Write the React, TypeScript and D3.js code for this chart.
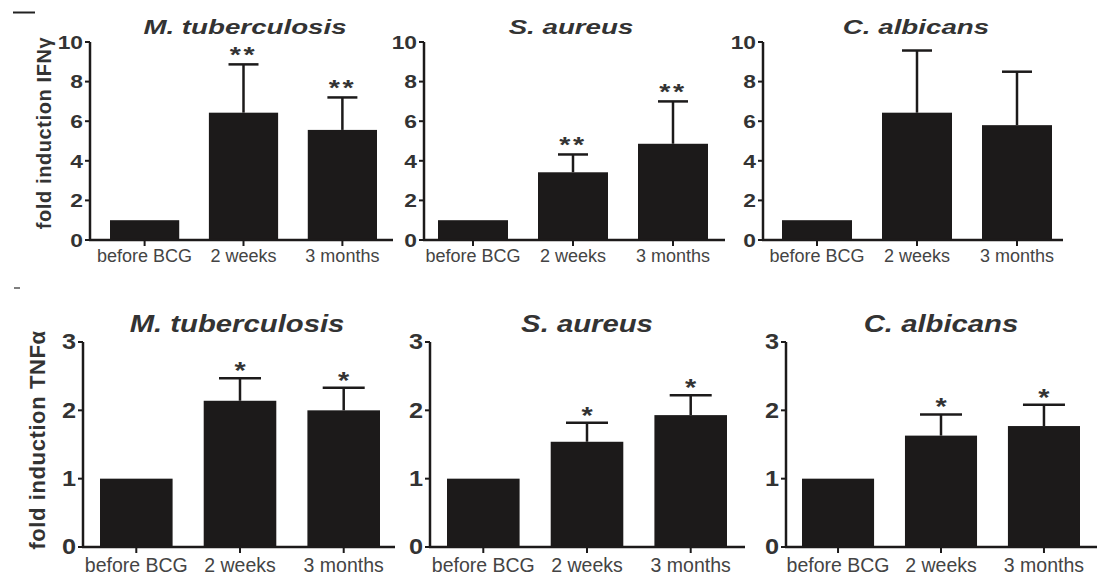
import React from 'react'
import * as d3 from 'd3'

const categories = ['before BCG', '2 weeks', '3 months']
const pathogens = ['M. tuberculosis', 'S. aureus', 'C. albicans']

// fold induction IFNγ: bar height and top of the error bar
const ifnMean = [
  [1, 6.43, 5.56],
  [1, 3.42, 4.86],
  [1, 6.43, 5.8],
]
const ifnUpper = [
  [1, 8.87, 7.2],
  [1, 4.32, 7.0],
  [1, 9.57, 8.5],
]
const ifnStars = [
  ['', '**', '**'],
  ['', '**', '**'],
  ['', '', ''],
]
const ifnTicks = [0, 2, 4, 6, 8, 10]

// fold induction TNFα
const tnfMean = [
  [1, 2.14, 2.0],
  [1, 1.54, 1.93],
  [1, 1.63, 1.77],
]
const tnfUpper = [
  [1, 2.47, 2.33],
  [1, 1.82, 2.22],
  [1, 1.94, 2.08],
]
const tnfStars = [
  ['', '*', '*'],
  ['', '*', '*'],
  ['', '*', '*'],
]
const tnfTicks = [0, 1, 2, 3]

const FONT = 'Liberation Sans, Arial, Helvetica, sans-serif'
const INK = '#1c1a1a'
const TEXT = '#333'

interface PanelLayout {
  axisX: number
  barStart: number
  barEnd: number
  axisEnd: number
}

interface RowProps {
  means: number[][]
  uppers: number[][]
  stars: string[][]
  ticks: number[]
  yLabel: string
  y0: number
  yTop: number
  titleY: number
  titleSize: number
  titleScale: number
  tickSize: number
  tickScale: number
  catSize: number
  catY: number
  capWidth: number
  starSize: number
  starScale: number
  starSpacing: number
  starDy: number
  labelX: number
  labelY: number
  labelSize: number
  labelSpacing: number
  panels: PanelLayout[]
  titleX: number[]
}

const Row = (p: RowProps) => {
  const yMax = p.ticks[p.ticks.length - 1]
  const y = d3.scaleLinear().domain([0, yMax]).range([p.y0, p.yTop])
  return (
    <g>
      <text
        transform={`translate(${p.labelX},${p.labelY}) rotate(-90)`}
        textAnchor="middle"
        dominantBaseline="central"
        fontFamily={FONT}
        fontWeight="bold"
        fontSize={p.labelSize}
        letterSpacing={p.labelSpacing}
        fill={TEXT}
      >
        {p.yLabel}
      </text>
      {p.panels.map((pl, i) => {
        const x = d3
          .scaleBand<string>()
          .domain(categories)
          .range([pl.barStart, pl.barEnd])
          .paddingInner(0.3)
          .paddingOuter(0)
        const bw = x.bandwidth()
        return (
          <g key={i}>
            <text
              transform={`translate(${p.titleX[i]},${p.titleY}) scale(${p.titleScale},1)`}
              textAnchor="middle"
              fontFamily={FONT}
              fontWeight="bold"
              fontStyle="italic"
              fontSize={p.titleSize}
              fill={TEXT}
            >
              {pathogens[i]}
            </text>
            {/* bars */}
            {categories.map((c, j) => (
              <rect
                key={c}
                x={x(c)}
                y={y(p.means[i][j])}
                width={bw}
                height={p.y0 - y(p.means[i][j])}
                fill={INK}
              />
            ))}
            {/* error bars */}
            {categories.map((c, j) => {
              if (p.uppers[i][j] <= p.means[i][j]) return null
              const cx = (x(c) || 0) + bw / 2
              return (
                <g key={c} stroke={INK} strokeWidth={2.5}>
                  <line x1={cx} x2={cx} y1={y(p.means[i][j])} y2={y(p.uppers[i][j])} />
                  <line
                    x1={cx - p.capWidth / 2}
                    x2={cx + p.capWidth / 2}
                    y1={y(p.uppers[i][j])}
                    y2={y(p.uppers[i][j])}
                  />
                </g>
              )
            })}
            {/* significance */}
            {categories.map((c, j) =>
              p.stars[i][j] ? (
                <text
                  key={c}
                  transform={`translate(${(x(c) || 0) + bw / 2},${y(p.uppers[i][j]) + p.starDy}) scale(${p.starScale},1)`}
                  textAnchor="middle"
                  fontFamily={FONT}
                  fontWeight="bold"
                  fontSize={p.starSize}
                  letterSpacing={p.starSpacing}
                  fill={TEXT}
                >
                  {p.stars[i][j]}
                </text>
              ) : null
            )}
            {/* y axis */}
            <line x1={pl.axisX} x2={pl.axisX} y1={p.y0 + 1} y2={y(yMax)} stroke={INK} strokeWidth={2.5} />
            {p.ticks.map((t) => (
              <g key={t}>
                <line x1={pl.axisX - 5} x2={pl.axisX} y1={y(t)} y2={y(t)} stroke={INK} strokeWidth={2} />
                <text
                  transform={`translate(${pl.axisX - 7},${y(t)}) scale(${p.tickScale},1)`}
                  textAnchor="end"
                  dominantBaseline="central"
                  fontFamily={FONT}
                  fontWeight="bold"
                  fontSize={p.tickSize}
                  fill={TEXT}
                >
                  {t}
                </text>
              </g>
            ))}
            {/* x axis */}
            <line x1={pl.axisX - 1} x2={pl.axisEnd} y1={p.y0} y2={p.y0} stroke={INK} strokeWidth={2.5} />
            {categories.map((c) => {
              const cx = (x(c) || 0) + bw / 2
              return (
                <g key={c}>
                  <line x1={cx} x2={cx} y1={p.y0} y2={p.y0 + 6} stroke={INK} strokeWidth={2} />
                  <text
                    x={cx}
                    y={p.catY}
                    textAnchor="middle"
                    fontFamily={FONT}
                    fontSize={p.catSize}
                    fill="#444"
                  >
                    {c}
                  </text>
                </g>
              )
            })}
          </g>
        )
      })}
    </g>
  )
}

const App = () => {
  return (
    <svg
      width={1097}
      height={576}
      style={{ position: 'absolute', left: 0, top: 0, background: '#fff' }}
    >
      {/* remnants of the panel letters */}
      <line x1={13} x2={35} y1={12.5} y2={12.5} stroke="#222" strokeWidth={2} />
      <line x1={14} x2={20} y1={288} y2={288} stroke="#555" strokeWidth={1.5} />
      <Row
        means={ifnMean}
        uppers={ifnUpper}
        stars={ifnStars}
        ticks={ifnTicks}
        yLabel="fold induction IFNγ"
        y0={240}
        yTop={42}
        titleY={34}
        titleSize={21}
        titleScale={1.32}
        tickSize={19}
        tickScale={1.2}
        catSize={18}
        catY={262}
        capWidth={30}
        starSize={22}
        starScale={1.3}
        starSpacing={2}
        starDy={-2}
        labelX={44}
        labelY={133}
        labelSize={20}
        labelSpacing={0.6}
        panels={[
          { axisX: 90, barStart: 110, barEnd: 377, axisEnd: 393 },
          { axisX: 424, barStart: 438, barEnd: 708, axisEnd: 725 },
          { axisX: 763, barStart: 782, barEnd: 1052, axisEnd: 1063 },
        ]}
        titleX={[245, 571, 916]}
      />
      <Row
        means={tnfMean}
        uppers={tnfUpper}
        stars={tnfStars}
        ticks={tnfTicks}
        yLabel="fold induction TNFα"
        y0={547}
        yTop={342}
        titleY={332}
        titleSize={24}
        titleScale={1.22}
        tickSize={22}
        tickScale={1.15}
        catSize={19.5}
        catY={572}
        capWidth={42}
        starSize={24}
        starScale={1.2}
        starSpacing={0}
        starDy={1}
        labelX={37}
        labelY={440}
        labelSize={22}
        labelSpacing={0.6}
        panels={[
          { axisX: 83, barStart: 100, barEnd: 380, axisEnd: 395 },
          { axisX: 430, barStart: 447, barEnd: 727, axisEnd: 745 },
          { axisX: 786, barStart: 802, barEnd: 1080, axisEnd: 1097 },
        ]}
        titleX={[237, 587, 941]}
      />
    </svg>
  )
}

export default App
